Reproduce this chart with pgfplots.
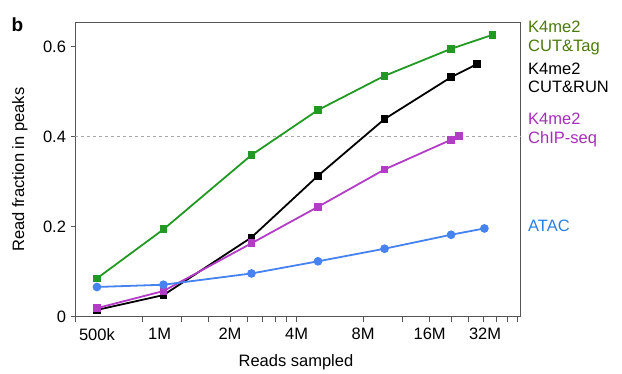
\documentclass[border=0pt]{standalone}
\usepackage{pgfplots}
\pgfplotsset{compat=1.18}
\usepackage{fontspec}
\setmainfont{Liberation Sans}
\definecolor{cgreen}{HTML}{229922}
\definecolor{tgreen}{HTML}{4C7A0A}
\definecolor{cmag}{HTML}{B33CC6}
\definecolor{tmag}{HTML}{A52EB8}
\definecolor{cblue}{HTML}{4682F0}
\definecolor{tblue}{HTML}{2A7FE0}
\definecolor{axgray}{HTML}{555555}
\begin{document}
\begin{tikzpicture}[x=1pt,y=1pt]
\path[use as bounding box] (0pt,0pt) rectangle (622pt,374pt);
\begin{axis}[at={(75.5pt,57.3pt)}, anchor=south west, scale only axis,
  width=444.5pt, height=294pt,
  xmode=log, xmin=0.4, xmax=41, ymin=0, ymax=0.653,
  xtick={0.4,0.8,1.2,1.6,2,2.4,2.8,3.2,3.6,4,8,12,16,20,24,28,32,36,40},
  xticklabels={},
  extra x ticks={0.5,0.96,2,4,8,16,28.5},
  extra x tick labels={500k,1M,2M,4M,8M,16M,32M},
  extra x tick style={major tick length=0pt, xticklabel style={yshift=-8pt}},
  ytick={0,0.2,0.4,0.6}, yticklabels={0,0.2,0.4,0.6},
  tick align=outside, major tick length=5pt,
  xtick pos=lower, ytick pos=left,
  axis line style={color=axgray, line width=0.8pt},
  every tick/.style={color=axgray, line width=0.7pt},
  tick label style={font=\fontsize{16.5}{19}\selectfont},
  yticklabel style={xshift=-1pt},
  xlabel={Reads sampled}, ylabel={Read fraction in peaks},
  label style={font=\fontsize{16.5}{19}\selectfont},
  xlabel style={at={(axis description cs:0.496,-0.1555)}, anchor=center},
  ylabel style={at={(axis description cs:-0.125,0.5)}, anchor=center},
  clip=false,
]
\addplot[gray!70, dashed, line width=0.7pt, forget plot] coordinates {(0.4,0.4) (41,0.4)};
\addplot[cgreen, line width=1.8pt, mark=square*, mark size=3pt] coordinates {
 (0.5,0.085) (1,0.194) (2.5,0.359) (5,0.459) (10,0.535) (20,0.595) (30.8,0.626)};
\addplot[black, line width=1.8pt, mark=square*, mark size=3pt] coordinates {
 (0.5,0.015) (1,0.048) (2.5,0.176) (5,0.313) (10,0.439) (20,0.532) (26.2,0.561)};
\addplot[cmag, line width=1.8pt, mark=square*, mark size=3pt] coordinates {
 (0.5,0.019) (1,0.057) (2.5,0.163) (5,0.244) (10,0.327) (20,0.393) (21.7,0.402)};
\addplot[cblue, line width=1.8pt, mark=*, mark size=3.4pt] coordinates {
 (0.5,0.066) (1,0.071) (2.5,0.096) (5,0.123) (10,0.151) (20,0.182) (28.3,0.196)};
\end{axis}
\node[font=\fontsize{19}{22}\selectfont\bfseries] at (17.5pt,349pt) {b};
\begin{scope}[every node/.style={anchor=west, align=left, inner sep=0pt, font=\fontsize{16.5}{18.5}\selectfont}]
\node[text=tgreen] at (528pt,336pt) {K4me2\\CUT\&Tag};
\node[text=black] at (528pt,296pt) {K4me2\\CUT\&RUN};
\node[text=tmag] at (528pt,244pt) {K4me2\\ChIP-seq};
\node[text=tblue] at (528pt,148pt) {ATAC};
\end{scope}
\end{tikzpicture}
\end{document}
